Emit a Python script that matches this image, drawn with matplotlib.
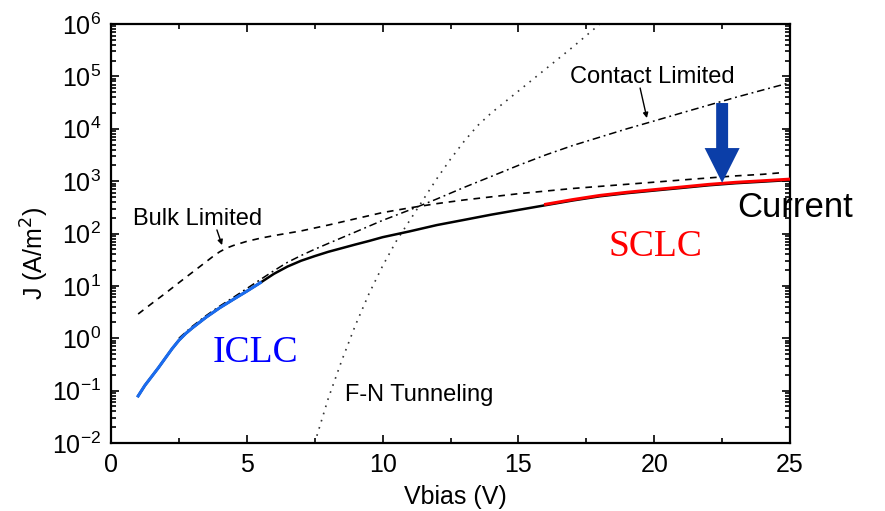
import numpy as np
import matplotlib
matplotlib.use("Agg")
import matplotlib.pyplot as plt
from matplotlib.ticker import FixedLocator, LogLocator, NullFormatter

plt.rcParams["font.family"] = ["Liberation Sans", "DejaVu Sans"]
plt.rcParams["axes.unicode_minus"] = False

v_cur = [1.0, 1.25, 1.5, 1.75, 2.0, 2.25, 2.5, 2.75, 3.0, 3.5, 4.0, 4.5, 5.0,
         5.5, 6.0, 6.5, 7.0, 7.5, 8.0, 8.5, 9.0, 9.5, 10.0, 11.0, 12.0, 13.0,
         14.0, 15.0, 16.0, 17.0, 18.0, 19.0, 20.0, 21.0, 22.0, 23.0, 24.0, 25.0]
j_cur = [0.079, 0.126, 0.186, 0.275, 0.417, 0.631, 0.912, 1.23, 1.58, 2.51,
         3.8, 5.5, 7.9, 11.5, 17, 23.4, 30.2, 37, 44.7, 52.5, 61.7, 72, 85, 110,
         145, 182, 229, 282, 347, 427, 513, 589, 661, 741, 832, 912, 977, 1050]

# low-bias (ICLC) and high-bias (SCLC) highlighted parts
iclc_max = 5.5
sclc_min = 16.0

# contact limited (dash-dot)
v_contact = [2.5, 3.0, 3.5, 4.0, 4.5, 5.0, 5.5, 6.0, 6.5, 7.0, 7.5, 8.0, 9.0,
             10.0, 11.0, 12.0, 13.0, 14.0, 15.0, 16.0, 17.0, 18.0, 19.0, 20.0,
             21.0, 22.0, 23.0, 24.0, 25.0]
j_contact = [1.0, 1.7, 2.7, 4.1, 6.0, 8.9, 13.2, 19.5, 28.2, 38, 50, 64.6, 107,
             178, 282, 457, 759, 1230, 2000, 3160, 4790, 6920, 10000, 14100,
             20000, 28200, 39800, 55000, 75900]

# bulk limited (dashed)
v_bulk = [1.0, 1.5, 2.0, 2.5, 3.0, 3.5, 3.75, 4.0, 4.25, 4.5, 5.0, 5.5, 6.0,
          7.0, 8.0, 9.0, 10.0, 11.0, 12.0, 13.0, 14.0, 15.0, 16.0, 17.0, 18.0,
          19.0, 20.0, 21.0, 22.0, 23.0, 24.0, 24.7]
j_bulk = [2.9, 4.6, 7.2, 11.5, 18.2, 28.8, 36.3, 44.7, 52.5, 58.9, 70.8, 81.3,
          91.2, 112, 145, 191, 251, 309, 372, 437, 501, 575, 646, 724, 794, 871,
          955, 1050, 1150, 1260, 1350, 1450]

# Fowler-Nordheim tunneling (dotted)
v_fn = [7.5, 8.0, 8.5, 9.0, 9.5, 10.0, 10.5, 11.0, 11.5, 12.0, 12.5, 13.0,
        13.5, 14.0, 15.0, 16.0, 17.0, 18.0]
j_fn = [0.01, 0.071, 0.38, 1.78, 7.1, 24, 71, 178, 447, 1120, 2630, 5750,
        11500, 20000, 52500, 138000, 363000, 1000000]

xticks = [0, 5, 10, 15, 20, 25]

fig = plt.figure(figsize=(8.85, 5.11), dpi=100)
ax = fig.add_axes([0.1254, 0.1331, 0.7673, 0.8199])

v_cur = np.array(v_cur)
j_cur = np.array(j_cur)
ax.plot(v_cur, j_cur, "-", color="black", lw=1.8, zorder=3)
m = v_cur <= iclc_max
ax.plot(v_cur[m], j_cur[m], "-", color="#1a6cf0", lw=2.2, zorder=4)
m = v_cur >= sclc_min
ax.plot(v_cur[m], j_cur[m] * 1.04, "-", color="#ff0000", lw=2.2, zorder=4)

ax.plot(v_contact, j_contact, color="black", lw=1.1,
        dashes=(5, 2.5, 1.2, 2.5), zorder=2)
ax.plot(v_bulk, j_bulk, color="black", lw=1.2, dashes=(4, 3.5), zorder=2)
ax.plot(v_fn, j_fn, color="#333333", lw=1.2, dashes=(1, 3.5), zorder=2)

ax.set_xlim(0, 25)
ax.set_ylim(1e-2, 1e6)
ax.set_yscale("log")
ax.set_xticks(xticks)
ax.xaxis.set_minor_locator(FixedLocator([2.5, 7.5, 12.5, 17.5, 22.5]))
ax.yaxis.set_major_locator(LogLocator(base=10, numticks=20))
ax.yaxis.set_minor_locator(LogLocator(base=10, subs=np.arange(2, 10), numticks=20))
ax.yaxis.set_minor_formatter(NullFormatter())
ax.tick_params(which="both", direction="in", top=True, right=True,
               labelsize=18, width=1.2)
ax.tick_params(which="major", length=6, pad=7)
ax.tick_params(which="minor", length=3.5)
for s in ax.spines.values():
    s.set_linewidth(1.6)

fig.text(35 / 885, 1 - 253 / 511, "J (A/m$^2$)", rotation=90,
         ha="center", va="center", fontsize=18)
fig.text(455 / 885, 1 - 497 / 511, "Vbias (V)", ha="center", va="center",
         fontsize=18)

ax.text(0.81, 145, "Bulk Limited", fontsize=17, va="baseline")
ax.annotate("", xy=(4.09, 60), xytext=(3.9, 117),
            arrowprops=dict(arrowstyle="-|>,head_length=0.3,head_width=0.15",
                            color="black", lw=1, shrinkA=0, shrinkB=0))
ax.text(16.9, 7.4e4, "Contact Limited", fontsize=17, va="baseline")
ax.annotate("", xy=(19.73, 1.6e4), xytext=(19.48, 6.0e4),
            arrowprops=dict(arrowstyle="-|>,head_length=0.3,head_width=0.15",
                            color="black", lw=1, shrinkA=0, shrinkB=0))
ax.text(8.62, 0.062, "F-N Tunneling", fontsize=17, va="baseline")

ax.text(3.76, 0.355, "ICLC", fontsize=27, color="#0000ff",
        family="Liberation Serif", va="baseline")
ax.text(18.3, 37, "SCLC", fontsize=27, color="#ff0000",
        family="Liberation Serif", va="baseline")
ax.text(23.05, 209, "Current", fontsize=25, color="black", va="baseline",
        clip_on=False, zorder=6)

ax.annotate("", xy=(22.5, 930), xytext=(22.5, 3.1e4),
            arrowprops=dict(arrowstyle="simple,head_length=1.25,head_width=1.26,tail_width=0.43",
                            mutation_scale=20, color="#0b3ea8", lw=0,
                            shrinkA=0, shrinkB=0), zorder=5)

fig.savefig("out.png", dpi=100)
